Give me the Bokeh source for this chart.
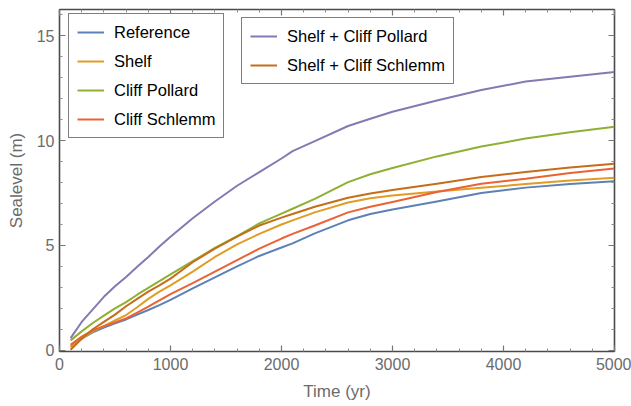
from bokeh.plotting import figure
from bokeh.models import Range1d, LinearAxis, FixedTicker, Legend, LegendItem
from bokeh.embed import file_html
from bokeh.resources import INLINE

# ---- data ----
time_yr = [100, 200, 300, 400, 500, 600, 700, 800, 900, 1000, 1200, 1400, 1600, 1800,
           2000, 2100, 2300, 2600, 2800, 3000, 3400, 3800, 4200, 4600, 5000]
reference = [0.18, 0.55, 0.85, 1.08, 1.28, 1.47, 1.70, 1.92, 2.15, 2.40, 2.95, 3.48, 4.00, 4.50,
             4.90, 5.10, 5.58, 6.20, 6.50, 6.72, 7.10, 7.50, 7.76, 7.93, 8.07]
shelf = [0.15, 0.55, 0.90, 1.15, 1.42, 1.68, 2.05, 2.45, 2.80, 3.10, 3.75, 4.45, 5.05, 5.55,
         6.00, 6.20, 6.58, 7.05, 7.25, 7.38, 7.58, 7.75, 7.93, 8.10, 8.23]
cliff_pollard = [0.47, 0.90, 1.30, 1.65, 2.00, 2.30, 2.65, 2.98, 3.30, 3.62, 4.25, 4.88, 5.45, 6.05,
                 6.52, 6.75, 7.22, 8.02, 8.40, 8.70, 9.25, 9.72, 10.10, 10.40, 10.66]
cliff_schlemm = [0.26, 0.65, 0.95, 1.15, 1.33, 1.52, 1.80, 2.08, 2.38, 2.68, 3.20, 3.75, 4.30, 4.85,
                 5.33, 5.55, 5.95, 6.58, 6.85, 7.07, 7.55, 7.95, 8.18, 8.46, 8.67]
shelf_cliff_pollard = [0.58, 1.35, 1.95, 2.55, 3.05, 3.50, 3.98, 4.45, 4.95, 5.42, 6.30, 7.10, 7.85, 8.50,
                       9.15, 9.50, 9.98, 10.70, 11.05, 11.38, 11.92, 12.42, 12.82, 13.05, 13.28]
shelf_cliff_schlemm = [0.02, 0.55, 1.00, 1.35, 1.70, 2.10, 2.45, 2.80, 3.10, 3.42, 4.20, 4.85, 5.42, 5.95,
                       6.33, 6.50, 6.85, 7.28, 7.48, 7.65, 7.95, 8.27, 8.50, 8.72, 8.90]

series_names_1 = ["Reference", "Shelf", "Cliff Pollard", "Cliff Schlemm"]
series_names_2 = ["Shelf + Cliff Pollard", "Shelf + Cliff Schlemm"]

x_major_ticks = [0, 1000, 2000, 3000, 4000, 5000]
y_major_ticks = [0, 5, 10, 15]

colors = ["#5E81B5", "#E19C24", "#8FB032", "#EB6235", "#8778B3", "#C56E1A"]

FONT = "Liberation Sans"
FRAME = "#4a4a4a"
TEXT_GRAY = "#6b6b6b"

p = figure(width=631, height=406, x_range=Range1d(0, 5000), y_range=Range1d(-0.06, 16.26),
           output_backend="svg", toolbar_location=None,
           min_border_left=59, min_border_right=17, min_border_top=9, min_border_bottom=55)
p.xgrid.visible = False
p.ygrid.visible = False
p.outline_line_color = FRAME
p.outline_line_width = 1.6
p.background_fill_color = "white"
p.border_fill_color = "white"

x_minor = [v for v in range(0, 5001, 200) if v not in x_major_ticks]
y_minor = [v for v in range(0, 17) if v not in y_major_ticks]
xt = FixedTicker(ticks=x_major_ticks, minor_ticks=x_minor)
yt = FixedTicker(ticks=y_major_ticks, minor_ticks=y_minor)


def style_axis(ax, labels=True):
    ax.axis_line_color = None
    ax.major_tick_in = 6
    ax.major_tick_out = 0
    ax.minor_tick_in = 3
    ax.minor_tick_out = 0
    ax.major_tick_line_color = "#777777"
    ax.minor_tick_line_color = "#8a8a8a"
    ax.major_tick_line_width = 1.2
    ax.minor_tick_line_width = 1.0
    if labels:
        ax.major_label_text_font = FONT
        ax.major_label_text_font_size = "16px"
        ax.major_label_text_color = TEXT_GRAY
        ax.axis_label_text_font = FONT
        ax.axis_label_text_font_size = "17px"
        ax.axis_label_text_color = TEXT_GRAY
        ax.axis_label_text_font_style = "normal"
    else:
        ax.major_label_text_color = None
        ax.major_label_text_font_size = "1px"
        ax.major_label_standoff = 0


xa = p.xaxis[0]
xa.ticker = xt
xa.axis_label = "Time (yr)"
style_axis(xa)
xa.major_label_standoff = 6
xa.axis_label_standoff = 9

ya = p.yaxis[0]
ya.ticker = yt
ya.axis_label = "Sealevel (m)"
style_axis(ya)
ya.major_label_standoff = 5
ya.axis_label_standoff = 8

top_ax = LinearAxis(ticker=FixedTicker(ticks=x_major_ticks, minor_ticks=x_minor))
style_axis(top_ax, labels=False)
p.add_layout(top_ax, "above")
right_ax = LinearAxis(ticker=FixedTicker(ticks=y_major_ticks, minor_ticks=y_minor))
style_axis(right_ax, labels=False)
p.add_layout(right_ax, "right")

all_series = [reference, shelf, cliff_pollard, cliff_schlemm, shelf_cliff_pollard, shelf_cliff_schlemm]
renderers = []
for ys, c in zip(all_series, colors):
    r = p.line(time_yr, ys, line_color=c, line_width=2, line_join="round")
    renderers.append(r)


def make_legend(names, rends, loc):
    lg = Legend(items=[LegendItem(label=n, renderers=[r]) for n, r in zip(names, rends)],
                location=loc, orientation="vertical")
    lg.border_line_color = "black"
    lg.border_line_width = 1.2
    lg.background_fill_color = "white"
    lg.background_fill_alpha = 1.0
    lg.label_text_font = FONT
    lg.label_text_font_size = "16.5px"
    lg.label_text_color = "black"
    lg.glyph_width = 27
    lg.glyph_height = 20
    lg.label_height = 20
    lg.label_standoff = 10
    lg.spacing = 9
    lg.padding = 8
    lg.margin = 0
    return lg


leg1 = make_legend(series_names_1, renderers[:4], (9, 213))
leg2 = make_legend(series_names_2, renderers[4:], (182, 267))
p.add_layout(leg1, "center")
p.add_layout(leg2, "center")

open("out.html", "w").write(file_html(p, INLINE))
